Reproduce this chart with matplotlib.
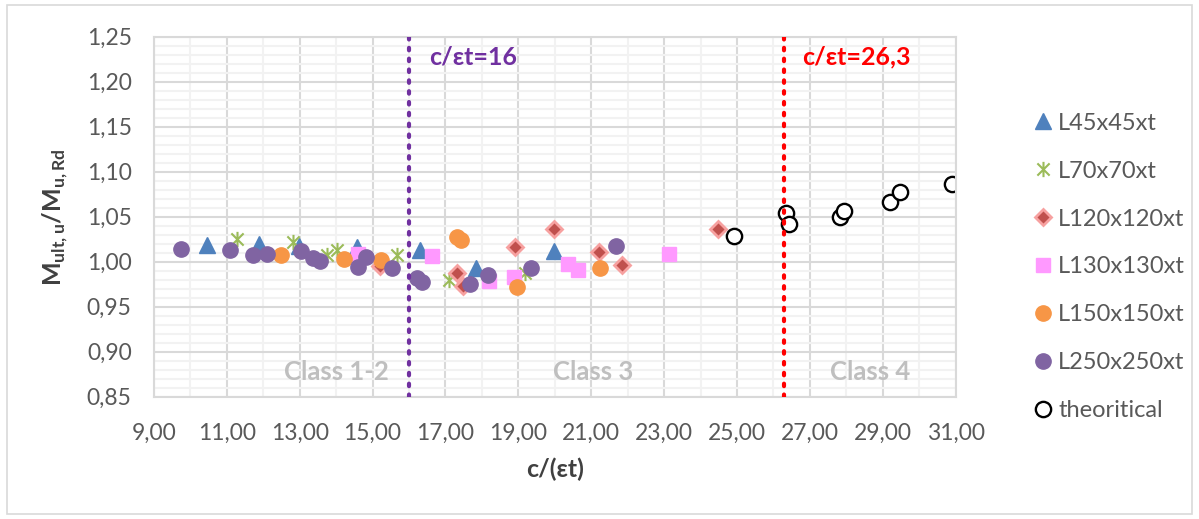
import numpy as np
import matplotlib
matplotlib.use("Agg")
import matplotlib.pyplot as plt
from matplotlib.path import Path
from matplotlib.patches import Rectangle
from matplotlib.ticker import MultipleLocator, FuncFormatter

plt.rcParams['font.family'] = ['Lato', 'DejaVu Sans']
plt.rcParams['mathtext.fontset'] = 'custom'
plt.rcParams['mathtext.rm'] = 'Lato'
plt.rcParams['mathtext.bf'] = 'Lato:bold'

# data
l45_x = [10.45, 11.89, 12.98, 14.56, 16.30, 17.84, 19.99]
l45_y = [1.019, 1.020, 1.017, 1.016, 1.013, 0.993, 1.012]

l70_x = [11.27, 12.82, 13.74, 14.01, 15.66, 17.10, 19.18]
l70_y = [1.025, 1.022, 1.007, 1.013, 1.007, 0.980, 0.988]

l120_x = [15.20, 17.31, 17.49, 18.91, 19.99, 21.20, 21.85, 24.47]
l120_y = [0.995, 0.987, 0.973, 1.016, 1.036, 1.011, 0.996, 1.036]

l130_x = [14.61, 16.62, 18.19, 18.89, 20.37, 20.64, 23.13]
l130_y = [1.009, 1.006, 0.979, 0.983, 0.998, 0.991, 1.009]

l150_x = [12.50, 14.21, 15.23, 17.32, 17.42, 18.97, 21.24]
l150_y = [1.007, 1.003, 1.002, 1.027, 1.024, 0.972, 0.993]

l250_x = [9.73, 11.09, 11.73, 12.11, 13.03, 13.36, 13.57, 14.61, 14.82, 15.54,
          16.21, 16.35, 17.67, 18.16, 19.35, 21.67]
l250_y = [1.014, 1.013, 1.007, 1.009, 1.012, 1.004, 1.001, 0.994, 1.005, 0.993,
          0.982, 0.978, 0.975, 0.985, 0.993, 1.018]

theo_x = [24.91, 26.35, 26.42, 27.83, 27.95, 29.20, 29.47, 30.91]
theo_y = [1.029, 1.054, 1.042, 1.050, 1.056, 1.066, 1.077, 1.086]

x_ticks = [9, 11, 13, 15, 17, 19, 21, 23, 25, 27, 29, 31]

limit_12 = 16.0
limit_34 = 26.3

# excel-like star marker: X plus vertical bar
star = Path([(0, -1), (0, 1), (-0.8, -0.8), (0.8, 0.8), (-0.8, 0.8), (0.8, -0.8)],
            [Path.MOVETO, Path.LINETO, Path.MOVETO, Path.LINETO, Path.MOVETO, Path.LINETO])

fig = plt.figure(figsize=(11.99, 5.19), dpi=100)
ax = fig.add_axes([0.1284, 0.2356, 0.797 - 0.1284, 0.9293 - 0.2356])

ax.plot(l45_x, l45_y, ls='none', marker='^', ms=11, color='#4F81BD', mec='#4F81BD', label='L45x45xt')
ax.plot(l70_x, l70_y, ls='none', marker=star, ms=11, color='#9BBB59', mew=1.5, label='L70x70xt')
ax.plot(l120_x, l120_y, ls='none', marker='D', ms=8, color='#C0504D', mec='#F7A1A0', mew=2, label='L120x120xt')
ax.plot(l130_x, l130_y, ls='none', marker='s', ms=10.5, color='#FF99FF', mec='#FF99FF', label='L130x130xt')
ax.plot(l150_x, l150_y, ls='none', marker='o', ms=11, color='#F79646', mec='#F79646', label='L150x150xt')
ax.plot(l250_x, l250_y, ls='none', marker='o', ms=11, color='#8064A2', mec='#8064A2', label='L250x250xt')
ax.plot(theo_x, theo_y, ls='none', marker='o', ms=11, mfc='white', mec='black', mew=1.7, label='theoritical')

ax.axvline(limit_12, color='#7030A0', ls=(0, (0.6, 2.0)), lw=3, dash_capstyle='round', zorder=3)
ax.axvline(limit_34, color='#FF0000', ls=(0, (0.6, 2.0)), lw=3, dash_capstyle='round', zorder=3)

ax.text(16.55, 1.227, 'c/εt=16', color='#7030A0', fontsize=18, fontweight='bold', va='center')
ax.text(26.8, 1.227, 'c/εt=26,3', color='#FF0000', fontsize=18, fontweight='bold', va='center')
ax.text(14.0, 0.877, 'Class 1-2', color='#BFBFBF', fontsize=18.5, fontweight='bold', ha='center', va='center')
ax.text(21.05, 0.877, 'Class 3', color='#BFBFBF', fontsize=18.5, fontweight='bold', ha='center', va='center')
ax.text(28.65, 0.877, 'Class 4', color='#BFBFBF', fontsize=18.5, fontweight='bold', ha='center', va='center')

ax.set_xlim(9, 31)
ax.set_ylim(0.85, 1.25)
ax.set_xticks(x_ticks)
ax.xaxis.set_minor_locator(MultipleLocator(1))
ax.yaxis.set_major_locator(MultipleLocator(0.05))
ax.yaxis.set_minor_locator(MultipleLocator(0.01))
fmt = FuncFormatter(lambda v, p: f'{v:.2f}'.replace('.', ','))
ax.xaxis.set_major_formatter(fmt)
ax.yaxis.set_major_formatter(fmt)
ax.grid(which='major', color='#D9D9D9', lw=1.5, zorder=0)
ax.grid(which='minor', color='#F2F2F2', lw=1.5, zorder=0)
ax.set_axisbelow(True)
ax.tick_params(which='both', length=0, labelsize=16.5, labelcolor='#595959')
ax.tick_params(axis='y', pad=16)
ax.tick_params(axis='x', pad=19)
for s in ax.spines.values():
    s.set_color('#D9D9D9')
    s.set_linewidth(1.5)

ax.set_xlabel('c/(εt)', fontsize=18, fontweight='bold', color='#404040', labelpad=10)
ax.set_ylabel(r'M$_{\mathbf{ult,u}}$/M$_{\mathbf{u,Rd}}$', fontsize=18, fontweight='bold', color='#404040', labelpad=12)

leg = ax.legend(loc='upper left', bbox_to_anchor=(0.852, 0.801), bbox_transform=fig.transFigure,
                frameon=False, fontsize=17, labelspacing=1.14, handletextpad=0.15,
                handlelength=1.0, borderaxespad=0)
for t in leg.get_texts():
    t.set_color('#595959')

fig.patches.append(Rectangle((0.006, 0.01), 0.988, 0.98, transform=fig.transFigure,
                             fill=False, edgecolor='#D9D9D9', lw=1.2))

fig.savefig('out.png', dpi=100)
